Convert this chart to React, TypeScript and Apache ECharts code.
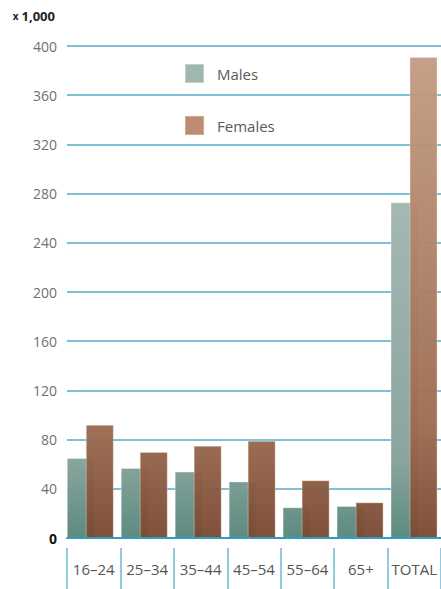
import React, { useEffect, useRef } from "react";
import * as echarts from "echarts";

// Population by age band, in thousands
const categories = ["16–24", "25–34", "35–44", "45–54", "55–64", "65+", "TOTAL"];
const males = [65, 57, 54, 46, 25, 26, 273];
const females = [92, 70, 75, 79, 47, 29, 391];
const yMin = 0;
const yMax = 400;
const yStep = 40;

const FONT = "'Open Sans', 'DejaVu Sans', sans-serif";

export default function App() {
  const ref = useRef<HTMLDivElement>(null);

  useEffect(() => {
    if (!ref.current) return;
    const chart = echarts.init(ref.current, undefined, { renderer: "svg" });

    const plotTop = 46;
    const plotBottom = 538;

    const maleFill = {
      type: "linear",
      x: 0,
      y: plotTop,
      x2: 0,
      y2: plotBottom,
      global: true,
      colorStops: [
        { offset: 0, color: "#adbfba" },
        { offset: 0.32, color: "#a5b8b2" },
        { offset: 0.84, color: "#8aa59e" },
        { offset: 1, color: "#5d8b7f" },
      ],
    };
    const femaleFill = {
      type: "linear",
      x: 0,
      y: plotTop,
      x2: 0,
      y2: plotBottom,
      global: true,
      colorStops: [
        { offset: 0, color: "#c49d84" },
        { offset: 0.31, color: "#b58a70" },
        { offset: 0.77, color: "#9c6c51" },
        { offset: 1, color: "#7a4a33" },
      ],
    };

    chart.setOption({
      animation: false,
      backgroundColor: "#ffffff",
      textStyle: { fontFamily: FONT },
      legend: {
        orient: "vertical",
        left: 184,
        top: 63,
        padding: 0,
        itemWidth: 19,
        itemHeight: 19,
        itemGap: 31,
        icon: "rect",
        selectedMode: false,
        textStyle: { fontSize: 15, color: "#5a5a5a", fontFamily: FONT, padding: [0, 0, 0, 8] },
        data: [
          { name: "Males", itemStyle: { color: "#9fb7b1" } },
          { name: "Females", itemStyle: { color: "#b8876b" } },
        ],
      },
      grid: [
        // bars
        { left: 63.3, width: 380.8, top: plotTop, bottom: 589 - plotBottom },
        // value axis and gridlines
        { left: 67, right: 0, top: plotTop, bottom: 589 - plotBottom },
        // category labels with separators
        { left: 67, width: 375, top: 548, height: 41 },
      ],
      xAxis: [
        {
          gridIndex: 0,
          type: "category",
          data: categories,
          show: false,
        },
        {
          gridIndex: 1,
          type: "category",
          data: categories,
          axisLabel: { show: false },
          axisTick: { show: false },
          axisLine: { show: true, lineStyle: { color: "#2f9dc5", width: 2 } },
          z: 5,
        },
        {
          gridIndex: 2,
          type: "category",
          data: categories,
          position: "top",
          axisLine: { show: false, onZero: false },
          axisTick: {
            show: true,
            inside: true,
            interval: 0,
            length: 41,
            lineStyle: { color: "#6bbad6", width: 1.5 },
          },
          axisLabel: {
            inside: true,
            interval: 0,
            margin: 13,
            fontSize: 15,
            color: "#555555",
            fontFamily: FONT,
          },
        },
      ],
      yAxis: [
        { gridIndex: 0, type: "value", min: yMin, max: yMax, interval: yStep, show: false },
        {
          gridIndex: 1,
          type: "value",
          min: yMin,
          max: yMax,
          interval: yStep,
          name: "{x|x} {n|1,000}",
          nameLocation: "end",
          nameGap: 30,
          nameTextStyle: {
            align: "right",
            verticalAlign: "middle",
            padding: [0, 12, 0, 0],
            rich: {
              x: { fontSize: 10, fontWeight: "bold", color: "#222222", fontFamily: FONT },
              n: { fontSize: 13, fontWeight: "bold", color: "#222222", fontFamily: FONT },
            },
          },
          axisLine: { show: false },
          axisTick: { show: false },
          axisLabel: {
            margin: 10,
            fontSize: 14,
            color: "#707070",
            fontFamily: FONT,
            formatter: (v: number) => (v === 0 ? "{z|0}" : String(v)),
            rich: {
              z: { fontSize: 14, fontWeight: "bold", color: "#111111", fontFamily: FONT },
            },
          },
          splitLine: { show: true, lineStyle: { color: "#55abcb", width: 1.5 } },
        },
        { gridIndex: 2, type: "value", min: 0, max: 1, show: false },
      ],
      series: [
        {
          name: "Males",
          type: "bar",
          xAxisIndex: 0,
          yAxisIndex: 0,
          data: males,
          barWidth: 28,
          barGap: "-32.1%",
          itemStyle: {
            color: maleFill,
            borderColor: "rgba(255,255,255,0.35)",
            borderWidth: 1,
          },
          z: 3,
        },
        {
          name: "Females",
          type: "bar",
          xAxisIndex: 0,
          yAxisIndex: 0,
          data: females,
          barWidth: 28,
          barGap: "-32.1%",
          itemStyle: {
            color: femaleFill,
            borderColor: "rgba(255,235,225,0.35)",
            borderWidth: 1,
            opacity: 0.96,
          },
          z: 4,
        },
      ],
    });

    return () => chart.dispose();
  }, []);

  return (
    <div
      ref={ref}
      style={{ position: "absolute", left: 0, top: 0, width: 441, height: 589 }}
    />
  );
}
